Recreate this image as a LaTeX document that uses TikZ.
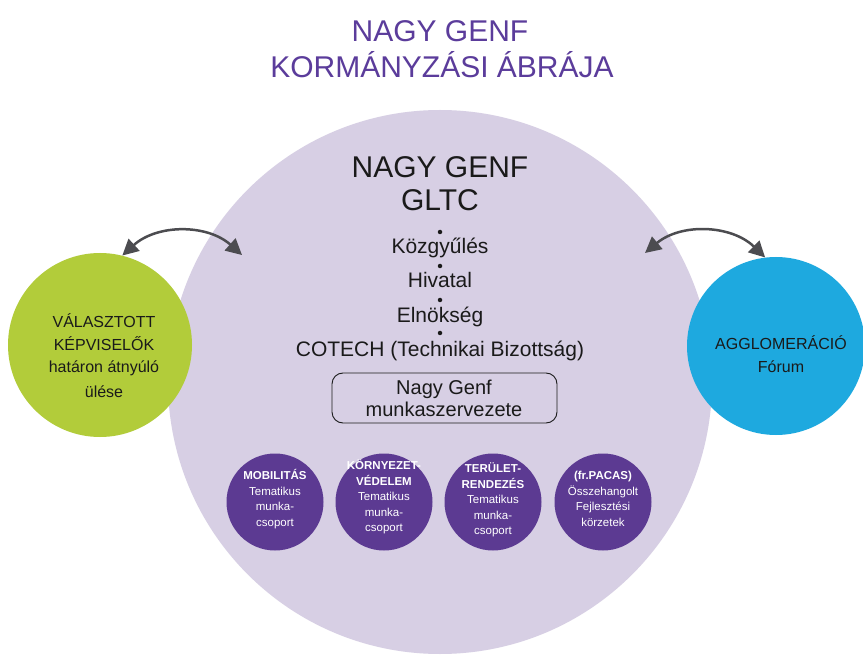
\documentclass[tikz,border=0pt]{standalone}
\usepackage{fontspec}
\setmainfont{Liberation Sans}
\usetikzlibrary{arrows.meta}
\definecolor{lav}{HTML}{D7CFE4}
\definecolor{dpur}{HTML}{5C3A92}
\definecolor{tpur}{HTML}{5B3C9B}
\definecolor{lgreen}{HTML}{B2CC3A}
\definecolor{lblue}{HTML}{1EA9DF}
\definecolor{arrgray}{HTML}{4C4C50}
\definecolor{ink}{HTML}{1A1A1A}
\begin{document}
\begin{tikzpicture}[x=1pt,y=-1pt,
  txt/.style={anchor=base, inner sep=0, text=ink},
  ttl/.style={anchor=base, inner sep=0, text=tpur, font=\fontsize{30}{30}\selectfont},
  big/.style={txt, font=\fontsize{30}{30}\selectfont},
  item/.style={txt, font=\fontsize{21}{21}\selectfont},
  side/.style={txt, font=\fontsize{16}{16}\selectfont},
  dotb/.style={circle, fill=ink, inner sep=0, minimum size=4.5pt},
  disc/.style={circle, inner sep=0, draw=none},
  wg/.style={disc, fill=dpur, minimum size=97pt},
  wgt/.style={inner sep=0, text=white, align=center, font=\fontsize{11.5}{15.5}\selectfont},
  arr/.style={draw=arrgray, line width=2.5pt, {Triangle[width=16pt,length=16pt]}-{Triangle[width=16pt,length=16pt]}}
]
\useasboundingbox (0,0) rectangle (863,655);
\fill[white] (0,0) rectangle (863,655);

% title
\node[ttl] (t1) at (440,42) {NAGY GENF};
\node[ttl] (t2) at (442,78) {KORMÁNYZÁSI ÁBRÁJA};

% main circle
\node[disc, fill=lav, minimum size=544pt] (main) at (440,382) {};

% side circles
\node[disc, fill=lgreen, minimum size=184pt] (green) at (100,345) {};
\node[disc, fill=lblue, minimum size=178pt] (blue) at (776,346) {};

% central texts
\node[big] (g1) at (440,178) {NAGY GENF};
\node[big] (g2) at (440,211) {GLTC};
\node[dotb] (d1) at (440,232) {};
\node[item] (i1) at (440,254) {Közgyűlés};
\node[dotb] (d2) at (440,266) {};
\node[item] (i2) at (440,288) {Hivatal};
\node[dotb] (d3) at (440,300) {};
\node[item] (i3) at (440,323) {Elnökség};
\node[dotb] (d4) at (440,333) {};
\node[item] (i4) at (440,356) {COTECH (Technikai Bizottság)};

\draw[ink, line width=0.9pt, rounded corners=11pt] (332,373) rectangle (557,423);
\node[item, font=\fontsize{20}{20}\selectfont] (m1) at (444,394) {Nagy Genf};
\node[item, font=\fontsize{20}{20}\selectfont] (m2) at (444,416) {munkaszervezete};

% green text
\node[side] (v1) at (104,327) {VÁLASZTOTT};
\node[side] (v2) at (104,351) {KÉPVISELŐK};
\node[side] (v3) at (104,373) {határon átnyúló};
\node[side] (v4) at (104,397) {ülése};

% blue text
\node[side] (a1) at (781,349) {AGGLOMERÁCIÓ};
\node[side] (a2) at (781,373) {Fórum};

% working groups
\node[wg] (w1) at (275,502) {};
\node[wg] (w2) at (384,502) {};
\node[wg] (w3) at (493,502) {};
\node[wg] (w4) at (603,502) {};
\node[wgt] (w1t) at (275,499) {\textbf{MOBILITÁS}\\Tematikus\\munka-\\csoport};
\node[wgt] (w2t) at (384,497) {\textbf{KÖRNYEZET-}\\\textbf{VÉDELEM}\\Tematikus\\munka-\\csoport};
\node[wgt] (w3t) at (493,500) {\textbf{TERÜLET-}\\\textbf{RENDEZÉS}\\Tematikus\\munka-\\csoport};
\node[wgt] (w4t) at (603,499) {\textbf{(fr.PACAS)}\\Összehangolt\\Fejlesztési\\körzetek};

% arrows
\coordinate (ml) at (242,255);
\coordinate (mr) at (645,253);
\draw[arr] (green.76) to[bend left=42] (ml);
\draw[arr] (mr) to[bend left=42] (blue.97);
\end{tikzpicture}
\end{document}
